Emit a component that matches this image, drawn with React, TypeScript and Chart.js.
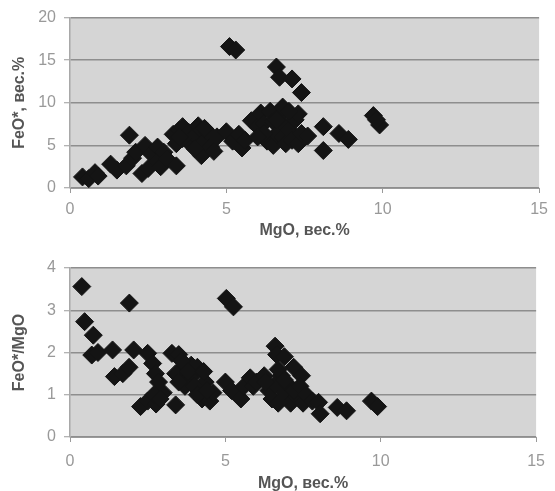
import { useEffect, useRef } from "react";
import { Chart, registerables } from "chart.js";
Chart.register(...registerables);

// Top chart: MgO vs FeO*
const mgoTop = [
  0.4, 0.6, 0.8, 0.9,
  1.3, 1.5, 1.8, 1.9, 2.0, 2.1,
  2.3, 2.5, 2.4, 2.6, 2.8, 2.8, 2.9, 3.0, 3.1, 3.4,
  3.3, 3.4, 3.5, 3.6, 3.7, 3.8, 3.9, 4.0, 4.1, 4.2, 4.2, 4.3, 4.4, 4.5, 4.6, 4.7, 4.0, 3.6, 3.5, 4.3,
  5.0, 5.1, 5.3, 5.2, 5.4, 5.5, 5.6, 5.8, 6.0,
  6.1, 6.2, 6.3, 6.4, 6.5, 6.5, 6.6, 6.6, 6.7, 6.7, 6.8, 6.8, 6.9, 6.9, 7.1, 7.0, 7.1, 7.2, 7.3, 7.3, 7.4, 7.4, 7.6, 6.2, 6.0, 6.6, 7.0,
  8.1, 8.1, 8.6, 8.9, 9.7, 9.9, 9.8,
];
const feoTop = [
  1.3, 1.1, 1.8, 1.4,
  2.8, 2.1, 2.6, 6.2, 3.5, 4.2,
  1.7, 2.3, 5.0, 4.0, 4.8, 3.1, 2.5, 4.2, 3.4, 2.6,
  6.3, 5.2, 6.8, 7.2, 5.8, 6.5, 5.0, 6.2, 7.3, 6.8, 3.8, 5.5, 6.6, 4.8, 4.3, 6.0, 4.6, 5.8, 6.0, 7.0,
  6.6, 16.6, 16.2, 5.5, 6.3, 4.7, 5.6, 7.9, 7.2,
  8.8, 7.6, 5.5, 9.0, 7.8, 5.0, 14.2, 6.3, 13.0, 8.5, 9.5, 6.0, 7.2, 5.2, 12.8, 6.8, 5.6, 8.0, 8.7, 5.2, 11.2, 6.4, 6.1, 6.4, 6.0, 8.0, 9.0,
  7.2, 4.4, 6.4, 5.7, 8.5, 7.4, 8.0,
];

// Bottom chart: MgO vs FeO*/MgO
const mgoBottom = [
  0.38, 0.47, 0.75, 0.7, 0.9,
  1.37, 1.43, 1.7, 1.9, 1.91, 2.05,
  2.27, 2.5, 2.77, 2.5, 2.66, 2.75, 2.85, 3.0, 2.7, 2.9,
  3.4, 3.28, 3.5, 3.6, 3.8, 4.0, 4.1, 4.2, 4.25, 4.5, 4.6, 4.35, 3.7, 3.4, 3.9,
  3.6, 3.8, 4.0, 4.3, 3.5, 4.1, 4.4,
  5.03, 5.26,
  5.0, 5.2, 5.5, 5.6, 5.8, 5.9,
  6.0, 6.25, 6.4, 6.5, 6.6, 6.65, 6.9, 7.2, 7.45, 6.8, 6.9, 7.1, 7.3, 7.5, 6.6, 7.0,
  6.3, 6.7, 6.9, 7.2, 7.4, 6.7, 7.6, 7.8,
  8.0, 8.05, 8.6, 8.9, 9.7, 9.9,
];
const ratioBottom = [
  3.56, 2.73, 2.41, 1.94, 2.0,
  2.06, 1.43, 1.5, 1.65, 3.17, 2.06,
  0.72, 0.85, 0.78, 1.98, 1.74, 1.5, 1.3, 1.05, 1.0, 0.9,
  0.76, 1.98, 1.95, 1.6, 1.35, 1.5, 1.65, 1.15, 0.9, 0.85, 1.05, 1.3, 1.2, 1.5, 1.7,
  1.8, 1.55, 1.2, 1.55, 1.3, 1.0, 1.1,
  3.28, 3.08,
  1.3, 1.1, 0.9, 1.2, 1.4, 1.2,
  1.3, 1.45, 1.1, 0.9, 2.15, 1.95, 1.9, 1.65, 1.45, 1.45, 1.05, 0.8, 0.95, 0.8, 1.25, 1.25,
  1.3, 1.6, 1.35, 1.1, 1.2, 0.8, 1.0, 0.85,
  0.82, 0.55, 0.7, 0.62, 0.85, 0.72,
];

const xTitle = "MgO, вес.%";
const yTitleTop = "FeO*, вес.%";
const yTitleBottom = "FeO*/MgO";

const FONT = "'Liberation Sans', Arial, sans-serif";

const plotBg = {
  id: "plotBg",
  beforeDraw(chart: any) {
    const { ctx, chartArea } = chart;
    ctx.save();
    ctx.fillStyle = "#d5d5d5";
    ctx.fillRect(chartArea.left, chartArea.top, chartArea.right - chartArea.left, chartArea.bottom - chartArea.top);
    ctx.restore();
  },
};

type Cfg = {
  xs: number[];
  ys: number[];
  yMax: number;
  yStep: number;
  yTitle: string;
  height: number;
  top: number;
  bottom: number;
  right: number;
  tickPad: number;
  titlePadBottom: number;
};

function makeChart(canvas: HTMLCanvasElement, c: Cfg) {
  const data = c.xs.map((x, i) => ({ x, y: c.ys[i] }));
  return new Chart(canvas, {
    type: "scatter",
    data: {
      datasets: [
        {
          data,
          pointStyle: "rectRot",
          pointRadius: 9,
          pointHoverRadius: 9,
          backgroundColor: "#141414",
          borderColor: "#141414",
          borderWidth: 1,
        },
      ],
    },
    options: {
      responsive: false,
      animation: false,
      events: [],
      layout: { padding: { top: c.top, right: 555 - c.right, left: 0, bottom: 0 } },
      plugins: { legend: { display: false }, tooltip: { enabled: false } },
      scales: {
        x: {
          type: "linear",
          min: 0,
          max: 15,
          afterFit: (s: any) => {
            s.height = c.height - c.bottom;
          },
          ticks: {
            stepSize: 5,
            color: "#999999",
            padding: c.tickPad,
            font: { family: FONT, size: 16 },
          },
          grid: { drawOnChartArea: false, drawTicks: true, tickLength: 5, color: "#9a9a9a" },
          border: { display: true, color: "#9a9a9a", width: 1 },
          title: {
            display: true,
            text: xTitle,
            color: "#555555",
            font: { family: FONT, size: 16, weight: "bold" },
            padding: { top: 0, bottom: c.titlePadBottom },
          },
        },
        y: {
          type: "linear",
          min: 0,
          max: c.yMax,
          afterFit: (s: any) => {
            s.width = 70;
          },
          ticks: {
            stepSize: c.yStep,
            color: "#999999",
            padding: 8,
            font: { family: FONT, size: 16 },
          },
          grid: { color: "#8e8e8e", lineWidth: 1.5, tickLength: 6, tickColor: "#9a9a9a", tickWidth: 1 },
          border: { display: true, color: "#a8a8a8", width: 1.5 },
          title: {
            display: true,
            text: c.yTitle,
            color: "#555555",
            font: { family: FONT, size: 16, weight: "bold" },
            padding: { top: 10, bottom: 0 },
          },
        },
      },
    },
    plugins: [plotBg],
  } as any);
}

export default function App() {
  const ref1 = useRef<HTMLCanvasElement>(null);
  const ref2 = useRef<HTMLCanvasElement>(null);

  useEffect(() => {
    const c1 = makeChart(ref1.current!, {
      xs: mgoTop,
      ys: feoTop,
      yMax: 20,
      yStep: 5,
      yTitle: yTitleTop,
      height: 245,
      top: 10,
      bottom: 188,
      right: 544,
      tickPad: 7,
      titlePadBottom: 5,
    });
    const c2 = makeChart(ref2.current!, {
      xs: mgoBottom,
      ys: ratioBottom,
      yMax: 4,
      yStep: 1,
      yTitle: yTitleBottom,
      height: 246,
      top: 23,
      bottom: 192,
      right: 542,
      tickPad: 10,
      titlePadBottom: -2,
    });
    return () => {
      c1.destroy();
      c2.destroy();
    };
  }, []);

  return (
    <div style={{ position: "absolute", left: 0, top: 0, width: 555, height: 491, background: "#fff", overflow: "hidden" }}>
      <canvas ref={ref1} width={555} height={245} style={{ position: "absolute", left: 0, top: 0, width: 555, height: 245 }} />
      <canvas ref={ref2} width={555} height={246} style={{ position: "absolute", left: 0, top: 245, width: 555, height: 246 }} />
    </div>
  );
}
